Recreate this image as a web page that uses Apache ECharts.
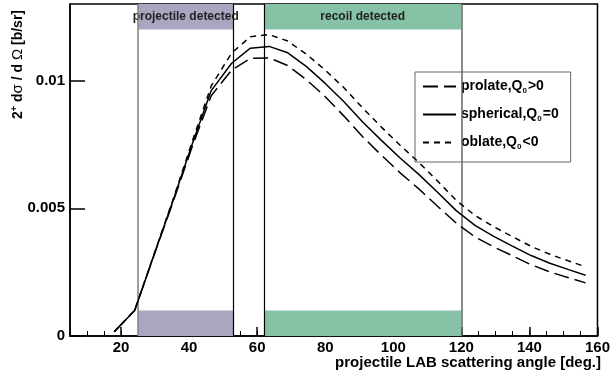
<!DOCTYPE html>
<html>
<head>
<meta charset="utf-8">
<script src="https://cdn.jsdelivr.net/npm/echarts@6/dist/echarts.min.js"></script>
<style>
  html, body { margin: 0; padding: 0; background: #fff; }
  #chart { width: 613px; height: 379px; }
</style>
</head>
<body>
<div id="chart"></div>
<script>
// LAB scattering angles (deg.) of the calculated points
const angles = [18, 24, 30, 35.5, 41, 46.5, 52.5, 58, 63.5, 69, 74.5, 80, 85.5, 91, 96.5,
  102, 107.5, 113, 118.5, 124, 129.5, 135, 140.5, 146, 151.5, 156.5];

// 2+ cross sections [b/sr]
const prolate = [0.00017, 0.00100, 0.00328, 0.00533, 0.00745, 0.00941, 0.01041, 0.01087, 0.01089,
  0.01059, 0.01003, 0.00937, 0.00861, 0.00780, 0.00708, 0.00639, 0.00576, 0.00508, 0.00442,
  0.00388, 0.00349, 0.00314, 0.00279, 0.00251, 0.00228, 0.00208];
const spherical = [0.00017, 0.00100, 0.00330, 0.00538, 0.00755, 0.00961, 0.01068, 0.01127, 0.01134,
  0.01109, 0.01055, 0.00989, 0.00917, 0.00838, 0.00766, 0.00697, 0.00633, 0.00563, 0.00491,
  0.00433, 0.00390, 0.00352, 0.00315, 0.00285, 0.00260, 0.00238];
const oblate = [0.00017, 0.00100, 0.00332, 0.00543, 0.00765, 0.00979, 0.01108, 0.01172, 0.01180,
  0.01155, 0.01103, 0.01041, 0.00972, 0.00893, 0.00818, 0.00747, 0.00680, 0.00607, 0.00531,
  0.00472, 0.00428, 0.00389, 0.00351, 0.00320, 0.00294, 0.00271];

// detector coverage (deg.) and the strips marking it
const projectileRange = [25, 53];
const recoilRange = [62, 120];
const lowStrip = [0, 0.001];
const highStrip = [0.012, 0.013];

// axes
const xRange = [5, 160];
const yRange = [0, 0.013];
const xMajorTicks = [20, 40, 60, 80, 100, 120, 140, 160];
const xMinorTicks = [5, 10, 15, 20, 25, 30, 35, 40, 45, 50, 55, 60, 65, 70, 75, 80, 85, 90, 95,
  100, 105, 110, 115, 120, 125, 130, 135, 140, 145, 150, 155, 160];
const yTicks = [0, 0.005, 0.01];

const legendLabels = {
  prolate: '{b|prolate,Q}{s|0}{b|>0}',
  spherical: '{b|spherical,Q}{s|0}{b|=0}',
  oblate: '{b|oblate,Q}{s|0}{b|<0}'
};

const FONT = '"Liberation Sans", Arial, sans-serif';
const PURPLE = '#aaa6c1';
const GREEN = '#86c3a6';

const pairs = ys => angles.map((a, i) => [a, ys[i]]);

const chart = echarts.init(document.getElementById('chart'));

const bandStrip = (range, strip, color, name) => {
  const first = { xAxis: range[0], yAxis: strip[0], itemStyle: { color: color } };
  if (name) first.name = name;
  return [first, { xAxis: range[1], yAxis: strip[1] }];
};

const option = {
  animation: false,
  backgroundColor: '#fff',
  grid: {
    left: 70, right: 11, top: 4, bottom: 43,
    show: true, borderColor: '#000', borderWidth: 1.5, backgroundColor: 'transparent'
  },
  legend: {
    orient: 'vertical',
    left: 415,
    top: 72,
    padding: [6, 12, 11, 7],
    itemWidth: 33,
    itemHeight: 14,
    itemGap: 11,
    backgroundColor: '#fff',
    borderColor: '#666',
    borderWidth: 1,
    borderRadius: 0,
    itemStyle: { opacity: 0 },
    data: ['prolate', 'spherical', 'oblate'],
    formatter: name => legendLabels[name],
    textStyle: {
      fontFamily: FONT,
      rich: {
        b: { fontSize: 14, fontWeight: 'bold', color: '#000', fontFamily: FONT, lineHeight: 16 },
        s: { fontSize: 8, fontWeight: 'bold', color: '#000', fontFamily: FONT, lineHeight: 16, padding: [9, 1, 0, 0] }
      }
    }
  },
  xAxis: [
    {
      type: 'value',
      min: xRange[0], max: xRange[1],
      axisLine: { lineStyle: { color: '#000', width: 1.5 } },
      axisTick: { inside: true, length: 9, customValues: xMajorTicks, lineStyle: { color: '#000', width: 1.5 } },
      axisLabel: {
        customValues: xMajorTicks, margin: 4,
        color: '#000', fontFamily: FONT, fontWeight: 'bold', fontSize: 15
      },
      splitLine: { show: false }
    },
    {
      type: 'value',
      position: 'bottom',
      min: xRange[0], max: xRange[1],
      axisLine: { show: false },
      axisTick: { inside: true, length: 5, customValues: xMinorTicks, lineStyle: { color: '#000', width: 1 } },
      axisLabel: { show: false },
      splitLine: { show: false }
    }
  ],
  yAxis: {
    type: 'value',
    min: yRange[0], max: yRange[1],
    axisLine: { show: true, lineStyle: { color: '#000', width: 1.5 } },
    axisTick: { show: true, inside: true, length: 15, customValues: yTicks, lineStyle: { color: '#000', width: 1.5 } },
    axisLabel: {
      customValues: yTicks, margin: 5,
      color: '#000', fontFamily: FONT, fontWeight: 'bold', fontSize: 15
    },
    splitLine: { show: false }
  },
  graphic: [
    {
      type: 'text',
      right: 12,
      top: 355,
      style: {
        text: 'projectile LAB scattering angle [deg.]',
        fill: '#000',
        font: 'bold 15px ' + FONT
      }
    },
    {
      type: 'text',
      x: 18, y: 10,
      rotation: Math.PI / 2,
      style: {
        text: '{b|2}{p|+}{b| d}{g|σ}{b| / d }{g|Ω}{b| [b/sr]}',
        align: 'right',
        verticalAlign: 'middle',
        rich: {
          b: { font: 'bold 14px ' + FONT, fill: '#000' },
          g: { font: '15px ' + FONT, fill: '#000' },
          p: { font: 'bold 9px ' + FONT, fill: '#000', padding: [0, 0, 7, 0] }
        }
      }
    }
  ],
  series: [
    {
      name: 'prolate',
      type: 'line',
      data: pairs(prolate),
      symbol: 'none',
      color: '#000',
      lineStyle: { color: '#000', width: 1.5, type: [15, 6] },
      z: 5
    },
    {
      name: 'spherical',
      type: 'line',
      data: pairs(spherical),
      symbol: 'none',
      color: '#000',
      lineStyle: { color: '#000', width: 1.5, type: 'solid' },
      z: 5
    },
    {
      name: 'oblate',
      type: 'line',
      data: pairs(oblate),
      symbol: 'none',
      color: '#000',
      lineStyle: { color: '#000', width: 1.5, type: [6, 5] },
      z: 5,
      // detector coverage strips and borders
      markArea: {
        silent: true,
        z: 3,
        label: {
          show: true, position: 'inside',
          color: '#222', fontFamily: FONT, fontWeight: 'bold', fontSize: 12
        },
        data: [
          bandStrip(projectileRange, highStrip, PURPLE, 'projectile detected'),
          bandStrip(projectileRange, lowStrip, PURPLE),
          bandStrip(recoilRange, highStrip, GREEN, 'recoil detected'),
          bandStrip(recoilRange, lowStrip, GREEN)
        ]
      },
      markLine: {
        silent: true,
        symbol: ['none', 'none'],
        label: { show: false },
        data: [
          { xAxis: projectileRange[0], lineStyle: { color: '#808080', width: 1.5, type: 'solid' } },
          { xAxis: projectileRange[1], lineStyle: { color: '#000', width: 1.2, type: 'solid' } },
          { xAxis: recoilRange[0], lineStyle: { color: '#000', width: 1.2, type: 'solid' } },
          { xAxis: recoilRange[1], lineStyle: { color: '#666', width: 1.5, type: 'solid' } }
        ]
      }
    }
  ]
};

chart.setOption(option);
</script>
</body>
</html>
